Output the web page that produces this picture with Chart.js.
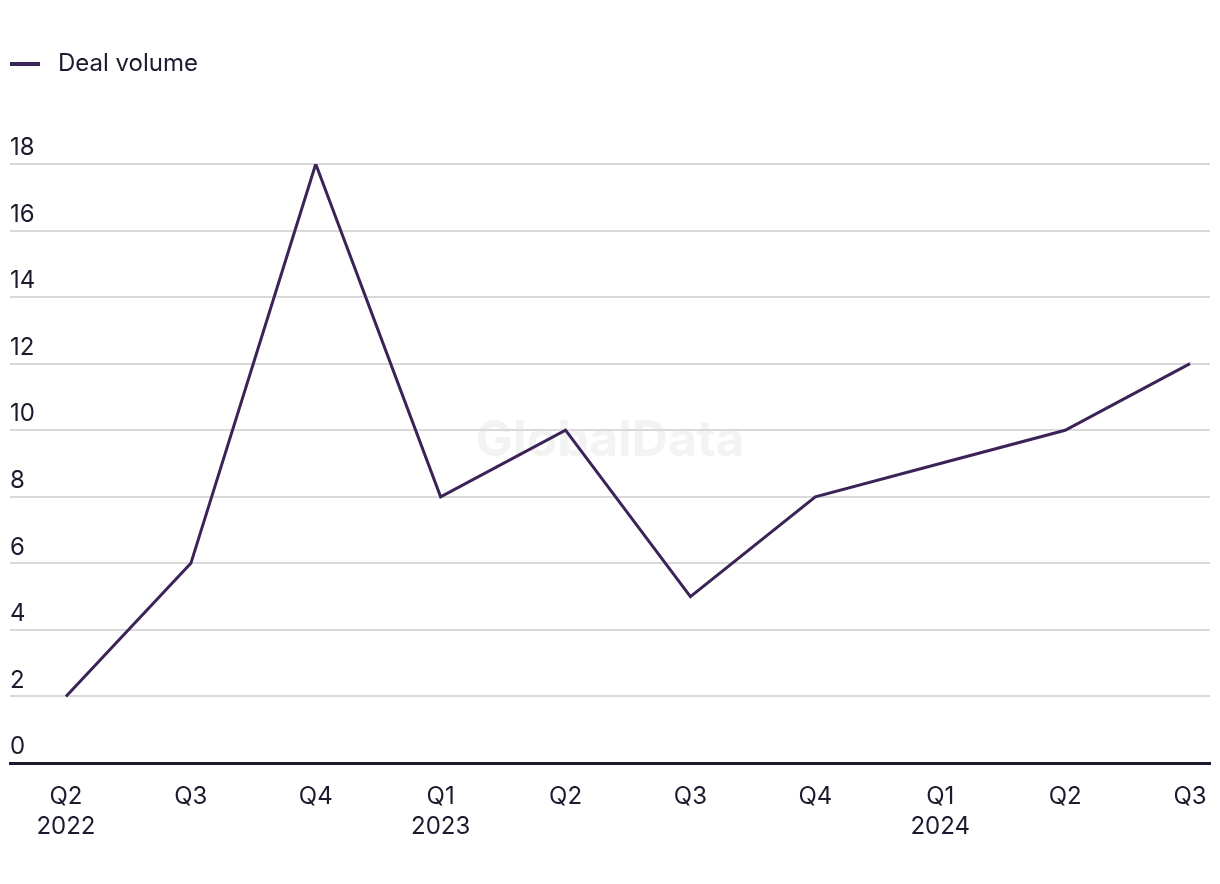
<!DOCTYPE html>
<html>
<head>
<meta charset="utf-8">
<script src="https://cdn.jsdelivr.net/npm/chart.js@4"></script>
<style>
  html, body { margin: 0; padding: 0; background: #fff; }
  #wrap { width: 1220px; height: 884px; }
</style>
</head>
<body>
<div id="wrap"><canvas id="dealChart"></canvas></div>
<script>
const quarters = ['Q2', 'Q3', 'Q4', 'Q1', 'Q2', 'Q3', 'Q4', 'Q1', 'Q2', 'Q3'];
const years = ['2022', '', '', '2023', '', '', '', '2024', '', ''];
const dealVolume = [2, 6, 18, 8, 10, 5, 8, 9, 10, 12];
const yTicks = [0, 2, 4, 6, 8, 10, 12, 14, 16, 18];

const lineColor = '#3b2357';
const textColor = '#1b1a2e';
const font = 'Inter, "Noto Sans", sans-serif';

// legend marker: 30px line inside a wider box so the text lands where it should
const marker = document.createElement('canvas');
marker.width = 36;
marker.height = 4;
const mctx = marker.getContext('2d');
mctx.fillStyle = lineColor;
mctx.fillRect(0, 0, 30, 4);

const watermark = {
  id: 'watermark',
  beforeDraw(chart) {
    const { ctx, chartArea } = chart;
    ctx.save();
    ctx.font = 'bold 50px ' + font;
    ctx.fillStyle = '#f3f3f3';
    ctx.textAlign = 'center';
    ctx.textBaseline = 'middle';
    ctx.fillText('GlobalData', (chartArea.left + chartArea.right) / 2, 441);
    ctx.restore();
  }
};

const legendGap = {
  id: 'legendGap',
  beforeInit(chart) {
    const fit = chart.legend.fit;
    chart.legend.fit = function () {
      fit.bind(chart.legend)();
      this.height += 78;
    };
  }
};

new Chart(document.getElementById('dealChart').getContext('2d'), {
  type: 'line',
  data: {
    datasets: [{
      label: 'Deal volume',
      data: dealVolume.map((v, i) => ({ x: i, y: v })),
      borderColor: lineColor,
      backgroundColor: lineColor,
      borderWidth: 3,
      pointRadius: 0,
      tension: 0,
      fill: false
    }]
  },
  options: {
    responsive: true,
    maintainAspectRatio: false,
    animation: false,
    layout: { padding: { top: 42, left: 0, right: 10, bottom: 23 } },
    plugins: {
      legend: {
        position: 'top',
        align: 'start',
        labels: {
          usePointStyle: true,
          pointStyle: marker,
          pointStyleWidth: 36,
          color: textColor,
          font: { family: font, size: 24 },
          padding: 10
        }
      },
      tooltip: { enabled: false }
    },
    scales: {
      x: {
        type: 'linear',
        min: -0.448,
        max: 9.16,
        afterBuildTicks(scale) {
          scale.ticks = quarters.map((q, i) => ({ value: i }));
        },
        afterFit(scale) {
          scale.paddingLeft = 0;
          scale.paddingRight = 0;
        },
        grid: { display: false, drawTicks: false },
        border: { display: true, color: textColor, width: 3 },
        ticks: {
          autoSkip: false,
          maxRotation: 0,
          padding: 19,
          color: textColor,
          font: { family: font, size: 24, lineHeight: 1.25 },
          callback: (value) => years[value] ? [quarters[value], years[value]] : quarters[value]
        }
      },
      y: {
        min: 0,
        max: 18,
        afterBuildTicks(scale) {
          scale.ticks = yTicks.map(v => ({ value: v }));
        },
        afterFit(scale) {
          scale.width = 10;
        },
        grid: { color: '#d9d9d9', lineWidth: 2, drawTicks: false },
        border: { display: false },
        ticks: {
          mirror: true,
          padding: 0,
          labelOffset: -16,
          color: textColor,
          font: { family: font, size: 24 }
        }
      }
    }
  },
  plugins: [watermark, legendGap]
});
</script>
</body>
</html>
